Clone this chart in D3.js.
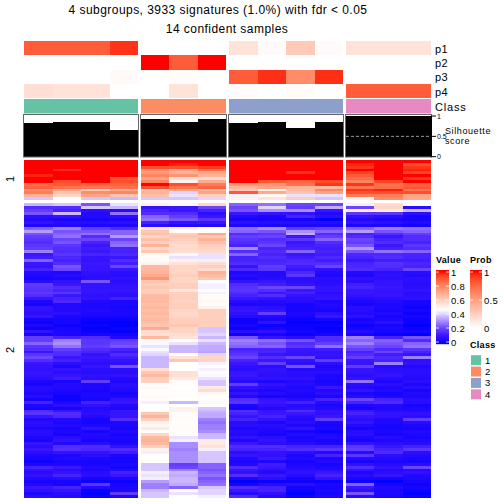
<!DOCTYPE html>
<html><head><meta charset="utf-8">
<script src="https://cdn.jsdelivr.net/npm/d3@7"></script>
<style>html,body{margin:0;padding:0;background:#fff}svg{display:block}text{font-family:"Liberation Sans",Arial,sans-serif;fill:#000}</style>
</head><body><div id="c"></div>
<script>
const titleLines = ["4 subgroups, 3933 signatures (1.0%) with fdr < 0.05", "14 confident samples"];
const groupSizes = [4, 3, 4, 3];
const classColors = ["#66C2A5", "#FC8D62", "#8DA0CB", "#E78AC3"];
const classNames = ["1", "2", "3", "4"];
const annNames = ["p1", "p2", "p3", "p4"];
const p1 = [.8,.8,.8,.93, 0,0,0, .15,.02,.28,.02, .15,.15,.15];
const p2 = [0,0,0,0, 1,.8,1, 0,0,0,0, 0,0,0];
const p3 = [0,0,0,.03, 0,.015,0, .8,.94,.6,.94, 0,0,0];
const p4 = [.17,.15,.15,0, 0,.15,0, .015,0,.015,0, .8,.8,.8];
const silhouette = [.83,.86,.86,.66, .925,.85,.925, .83,.86,.71,.86, .99,.99,.99];
const silTicks = [0, .5, 1];
const valueTicks = [0, .2, .4, .6, .8, 1];
const probTicks = [0, .5, 1];
// heatmap rows, values in percent; columns: 4 | 3 | 4 | 3
const rowsTop = [
[100,100,100,100,100,100,100,100,100,100,100,100,100,100],
[100,100,100,100,100,98,100,100,100,100,100,98,100,92],
[100,100,100,100,92,92,95,100,100,100,100,96,100,96],
[100,97,100,100,78,70,84,100,100,100,100,100,100,98],
[100,100,100,100,74,68,72,100,100,96,100,94,100,94],
[98,100,100,100,80,76,68,100,100,100,100,90,100,100],
[100,100,100,90,72,56,56,100,100,100,100,86,100,96],
[100,92,100,92,80,50,70,100,90,88,92,80,94,100],
[85,90,88,88,100,92,82,75,76,84,96,96,84,88],
[88,85,84,85,92,84,88,68,72,68,66,84,86,90],
[78,70,60,70,62,72,66,62,50,66,80,96,98,84],
[82,63,78,80,68,40,72,90,70,62,72,92,92,92],
[68,58,72,62,64,42,60,44,48,42,42,82,82,72],
[38,46,38,36,38,38,40,50,54,60,38,50,78,70]];
const rowsBottom = [
[36,38,22,42,50,48,58,24,26,20,20,44,56,46],
[14,14,38,36,8,10,20,20,40,18,34,20,58,6],
[18,12,6,5,12,10,12,22,30,30,10,52,52,36],
[22,36,4,26,14,14,6,10,8,8,4,16,16,6],
[6,8,4,6,24,18,10,4,3,12,6,8,6,2],
[4,3,2,3,26,22,16,2,2,2,0,4,3,2],
[8,5,5,6,12,8,10,6,5,5,5,8,6,4],
[3,4,3,3,6,4,4,3,3,3,3,3,3,2],
[24,28,18,14,55,50,46,26,30,18,20,24,28,26],
[32,22,22,24,62,47,46,24,22,30,24,32,22,24],
[22,24,26,24,64,60,70,14,16,34,14,12,14,18],
[18,26,14,32,58,62,62,18,20,10,18,14,10,14],
[16,20,20,20,64,60,68,16,14,16,24,20,12,14],
[14,22,12,24,60,58,64,14,16,10,14,18,14,12],
[16,16,10,26,68,56,60,12,20,11,12,22,10,16],
[18,14,11,12,56,57,58,30,12,12,11,32,12,14],
[28,14,10,12,62,56,57,14,14,24,12,22,26,24],
[10,16,12,13,48,45,42,24,12,10,11,13,13,12],
[11,13,9,10,47,42,42,12,14,11,13,12,14,12],
[24,12,8,14,47,50,44,12,12,13,11,10,11,11],
[10,14,10,11,50,54,56,14,13,14,14,12,15,13],
[9,22,9,20,66,58,60,9,18,11,20,13,14,12],
[12,20,9,9,66,58,56,13,16,9,7,14,12,20],
[4,3,7,6,68,58,68,3,4,13,4,4,6,5],
[3,5,6,5,70,60,66,5,4,16,3,3,7,4],
[2,3,6,7,76,58,62,3,5,6,6,7,6,6],
[5,8,22,6,62,58,46,8,10,6,5,5,8,6],
[18,10,8,7,60,60,44,14,11,8,6,11,8,5],
[16,14,8,8,62,60,44,15,20,20,8,12,10,6],
[15,12,9,9,60,52,46,16,14,10,8,9,8,8],
[17,16,8,7,60,60,44,14,10,12,5,10,8,5],
[14,10,7,6,65,60,47,12,14,8,7,8,9,6],
[9,12,8,12,66,60,47,10,8,6,9,5,6,7],
[3,13,4,3,66,59,48,5,4,5,3,3,4,2],
[2,4,3,3,64,60,47,3,3,2,4,2,3,2],
[8,4,3,2,66,60,50,8,6,2,3,6,3,1],
[7,4,4,3,64,58,60,9,8,2,2,5,2,2],
[6,6,3,3,66,57,60,7,18,3,6,4,4,1],
[9,3,2,2,64,58,60,5,4,2,10,7,2,2],
[2,2,1,1,66,60,60,1,2,1,2,2,3,1],
[1,2,0,0,64,60,60,1,8,0,0,3,6,1],
[3,1,1,0,62,62,60,2,1,1,1,1,2,0],
[1,2,0,1,70,58,38,1,2,1,0,2,3,1],
[8,3,1,0,56,58,38,6,7,2,1,5,2,2],
[2,3,2,2,55,56,40,1,2,1,2,2,1,0],
[18,12,14,4,66,54,36,22,8,6,14,28,12,22],
[18,28,16,18,45,47,42,28,26,22,14,24,24,14],
[24,30,16,20,45,42,36,26,22,14,18,28,22,24],
[16,26,18,22,42,36,34,24,24,16,26,22,20,26],
[14,18,14,12,45,36,34,12,12,10,11,18,14,16],
[10,14,12,10,42,36,33,14,12,9,8,12,20,12],
[16,14,8,14,40,46,40,16,10,8,9,14,11,9],
[20,10,10,11,36,54,58,20,14,20,7,18,13,28],
[14,12,8,8,36,62,58,12,10,8,18,10,12,6],
[10,6,6,7,36,46,44,10,18,6,6,9,28,7],
[8,3,9,22,36,46,46,7,6,22,3,18,5,4],
[7,8,6,6,55,46,44,6,8,4,4,9,6,5],
[9,6,5,5,62,55,47,9,7,6,6,8,7,6],
[8,9,7,8,66,55,45,10,6,5,3,6,9,5],
[6,11,6,4,60,52,42,7,8,7,3,8,5,4],
[3,2,18,3,60,47,38,5,3,4,2,26,3,6],
[2,4,3,6,46,47,38,18,8,5,3,5,6,3],
[5,4,3,5,48,46,52,7,5,3,10,4,3,6],
[4,3,2,4,46,47,56,4,3,4,4,8,4,2],
[3,2,3,2,47,47,48,8,5,3,6,3,2,4],
[5,1,3,3,48,47,47,4,2,2,3,5,3,3],
[2,1,2,8,47,46,47,14,8,5,12,20,12,6],
[12,3,12,10,44,36,45,16,10,12,5,12,14,5],
[3,6,7,4,46,46,46,3,7,5,3,3,4,2],
[2,2,4,3,46,50,38,2,4,6,4,2,3,3],
[14,9,5,10,46,50,36,14,9,14,8,10,5,4],
[16,14,6,9,62,47,34,12,10,10,7,12,8,7],
[10,13,4,9,68,47,34,9,12,6,10,9,7,6],
[4,4,2,14,60,47,28,12,8,4,18,6,4,18],
[6,3,2,3,50,46,26,5,3,6,3,9,3,5],
[5,4,3,3,48,47,28,6,5,3,2,4,2,3],
[3,2,8,2,52,47,28,3,4,8,3,2,2,2],
[6,3,2,4,46,47,30,5,3,2,1,5,3,4],
[5,2,4,2,58,47,36,4,2,4,3,6,2,3],
[3,6,3,3,66,42,36,7,6,2,4,3,5,2],
[2,8,2,2,68,44,44,3,8,3,2,2,3,4],
[9,4,5,3,66,30,52,10,6,5,3,8,6,5],
[6,14,14,8,60,30,54,14,14,12,12,16,10,12],
[10,15,13,14,50,28,44,12,12,14,16,18,12,16],
[6,8,8,11,44,30,38,6,8,6,4,5,14,6],
[3,3,6,3,46,30,38,9,7,3,12,16,6,4],
[2,4,3,2,46,30,38,4,10,4,3,5,4,3],
[1,2,2,2,47,30,38,3,3,2,4,2,3,2],
[3,3,2,3,38,18,24,4,11,3,2,7,5,6],
[12,10,4,2,38,20,24,14,10,4,3,14,8,20],
[8,6,3,4,38,28,22,10,6,6,5,8,4,5],
[5,8,5,12,44,36,24,7,4,8,10,3,6,7],
[7,12,6,10,42,34,26,14,10,5,12,5,9,4],
[4,5,2,3,44,36,22,3,6,2,8,3,2,3],
[2,2,1,1,32,36,24,0,1,1,1,1,0,2],
[4,2,16,2,28,34,26,2,5,6,3,24,2,1],
[10,12,4,3,28,24,38,14,12,2,2,10,4,2],
[7,9,1,3,36,46,40,10,12,1,3,6,3,1],
[3,5,0,18,38,42,40,4,7,0,2,22,3,0],
[6,4,1,3,38,46,44,14,4,1,3,5,2,1]];

const W = 504, H = 504;
const svg = d3.select("#c").append("svg").attr("width", W).attr("height", H);

const valueColor = d3.scaleLinear().domain([0, .1, .2, .3, .46, 1])
  .range(["#0000ff", "#3a16ff", "#6a44ff", "#a88eff", "#ffffff", "#ff0000"]).interpolate(d3.interpolateLab);
const probColor = d3.scaleLinear().domain([0, 1]).range(["#ffffff", "#ff0000"]).interpolate(d3.interpolateLab);

// group x ranges
const groupX = d3.scaleOrdinal().domain(d3.range(4)).range([[24, 138], [141, 226], [229, 343], [346, 431]]);
let offset = 0;
const columns = [];
groupSizes.forEach((n, g) => {
  const band = d3.scaleBand().domain(d3.range(n)).range(groupX(g));
  d3.range(n).forEach(k => columns.push({g, idx: offset + k, x: band(k), w: band.bandwidth()}));
  offset += n;
});

// annotation tracks
const annY = d3.scaleBand().domain(annNames).range([41, 98]);
[p1, p2, p3, p4].forEach((vals, a) => {
  svg.append("g").attr("shape-rendering", "crispEdges").selectAll("rect").data(columns).join("rect")
    .attr("x", d => d.x).attr("width", d => d.w + .3)
    .attr("y", annY(annNames[a])).attr("height", annY.bandwidth())
    .attr("fill", d => probColor(vals[d.idx]));
  svg.append("text").attr("x", 435).attr("y", annY(annNames[a]) + 11.5 + (a === 3 ? .5 : 0))
    .attr("font-size", 11).attr("letter-spacing", .4).text(annNames[a]);
});
// class track
svg.append("g").selectAll("rect").data(d3.range(4)).join("rect")
  .attr("x", g => groupX(g)[0]).attr("width", g => groupX(g)[1] - groupX(g)[0])
  .attr("y", 99).attr("height", 14.5).attr("fill", g => classColors[g]);
svg.append("text").attr("x", 435).attr("y", 111).attr("font-size", 11).attr("letter-spacing", .8).text("Class");

// silhouette
const silY = d3.scaleLinear().domain([0, 1]).range([156.7, 116]);
svg.append("g").attr("shape-rendering", "crispEdges").selectAll("rect").data(columns).join("rect")
  .attr("x", d => d.x).attr("width", d => d.w + .3)
  .attr("y", d => silY(silhouette[d.idx])).attr("height", d => silY(0) - silY(silhouette[d.idx]))
  .attr("fill", "#000");
svg.append("g").selectAll("rect").data(d3.range(4)).join("rect")
  .attr("x", g => groupX(g)[0] - .5).attr("width", g => groupX(g)[1] - groupX(g)[0] + 1)
  .attr("y", 114.5).attr("height", 42.5).attr("fill", "none").attr("stroke", "#666").attr("stroke-width", 1);
svg.append("line").attr("x1", 346).attr("x2", 431).attr("y1", silY(.5)).attr("y2", silY(.5))
  .attr("stroke", "#999").attr("stroke-width", 1).attr("stroke-dasharray", "3,2");
const silAxis = svg.append("g");
silTicks.forEach(t => {
  silAxis.append("line").attr("x1", 431).attr("x2", 436).attr("y1", silY(t)).attr("y2", silY(t)).attr("stroke", "#000");
  silAxis.append("text").attr("x", 437).attr("y", silY(t) + 2.5).attr("font-size", 7).text(t);
});
svg.append("line").attr("x1", 431.5).attr("x2", 431.5).attr("y1", silY(1)).attr("y2", silY(0)).attr("stroke", "#000");
svg.append("text").attr("x", 445).attr("y", 134).attr("font-size", 9).attr("letter-spacing", .6).text("Silhouette");
svg.append("text").attr("x", 445).attr("y", 144).attr("font-size", 9).attr("letter-spacing", .6).text("score");

// heatmap
function slice(rows, y0, y1) {
  const y = d3.scaleBand().domain(d3.range(rows.length)).range([y0, y1]);
  const g = svg.append("g").attr("shape-rendering", "crispEdges");
  rows.forEach((row, r) => {
    g.append("g").selectAll("rect").data(columns).join("rect")
      .attr("x", d => d.x).attr("width", d => d.w + .3)
      .attr("y", y(r)).attr("height", y.bandwidth() + .3)
      .attr("fill", d => valueColor(row[d.idx] / 100));
  });
}
slice(rowsTop, 160, 200);
slice(rowsBottom, 203, 498);

// row titles
[["1", 179], ["2", 350]].forEach(([t, y]) => {
  svg.append("text").attr("transform", `translate(14,${y}) rotate(-90)`)
    .attr("text-anchor", "middle").attr("font-size", 11).text(t);
});

// title
svg.append("text").attr("x", 218).attr("y", 14).attr("text-anchor", "middle").attr("font-size", 12).attr("letter-spacing", .45).text(titleLines[0]);
svg.append("text").attr("x", 227).attr("y", 33).attr("text-anchor", "middle").attr("font-size", 12).attr("letter-spacing", .45).text(titleLines[1]);

// legends
function colorBar(x, w, top, bottom, scale, ticks, barRange) {
  const y = d3.scaleLinear().domain(d3.extent(ticks)).range([bottom, top]);
  const [d0, d1] = d3.extent(ticks);
  const yy = d3.range(barRange[0], barRange[1]);
  svg.append("g").selectAll("rect").data(yy).join("rect")
    .attr("x", x).attr("width", w).attr("y", d => d).attr("height", 1.2)
    .attr("fill", d => scale(Math.max(d0, Math.min(d1, y.invert(d + .5)))));
  ticks.forEach(t => {
    svg.append("line").attr("x1", x).attr("x2", x + 3).attr("y1", y(t)).attr("y2", y(t)).attr("stroke", "#fff").attr("stroke-width", .8);
    svg.append("line").attr("x1", x + w - 3).attr("x2", x + w).attr("y1", y(t)).attr("y2", y(t)).attr("stroke", "#fff").attr("stroke-width", .8);
    svg.append("text").attr("x", x + w + 2).attr("y", y(t) + 3.5).attr("font-size", 9.5).attr("letter-spacing", .3).text(t);
  });
}
svg.append("text").attr("x", 436).attr("y", 263).attr("font-size", 9).attr("font-weight", "bold").attr("letter-spacing", .3).text("Value");
svg.append("text").attr("x", 470).attr("y", 263).attr("font-size", 9).attr("font-weight", "bold").attr("letter-spacing", .3).text("Prob");
colorBar(436, 13, 272, 342, valueColor, valueTicks, [270, 344]);
colorBar(470, 12, 272, 328, probColor, probTicks, [270, 329]);
svg.append("text").attr("x", 470).attr("y", 348).attr("font-size", 9).attr("font-weight", "bold").attr("letter-spacing", .3).text("Class");
const legY = d3.scaleBand().domain(classNames).range([354.5, 400]);
svg.append("g").selectAll("rect").data(classNames).join("rect")
  .attr("x", 471).attr("width", 10).attr("y", d => legY(d) + .7).attr("height", legY.bandwidth() - 1.4)
  .attr("fill", (d, i) => classColors[i]);
svg.append("g").selectAll("text").data(classNames).join("text")
  .attr("x", 485).attr("y", d => legY(d) + 9).attr("font-size", 9.5).text(d => d);
</script></body></html>
